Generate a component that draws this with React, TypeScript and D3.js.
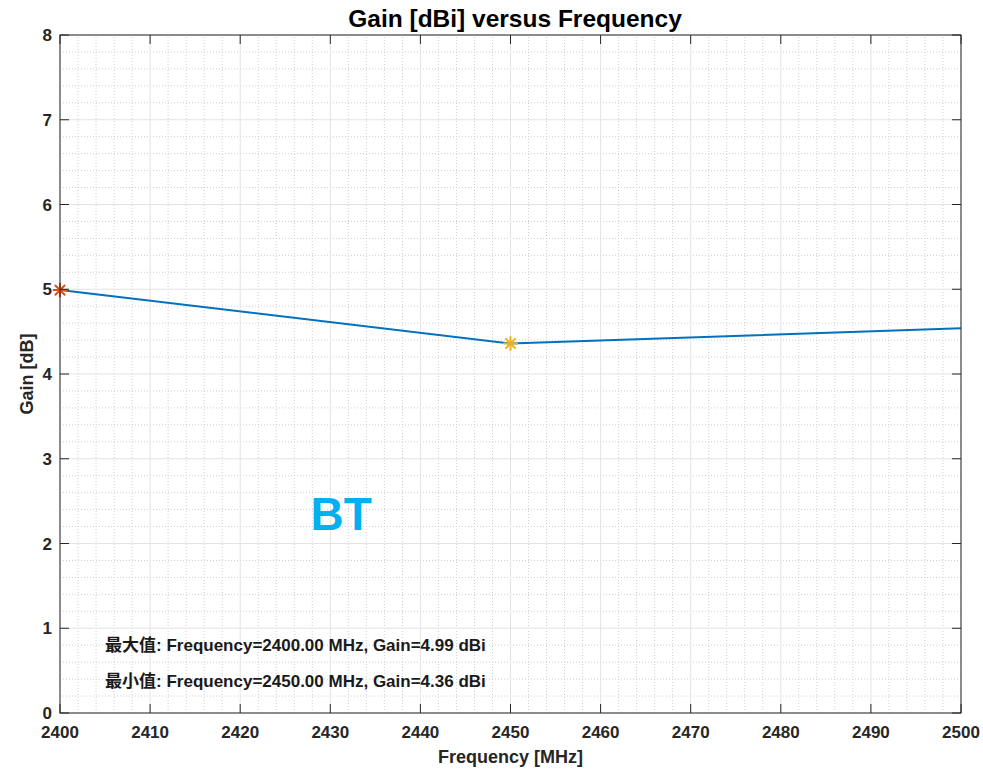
import * as d3 from 'd3';

const frequencies = [2400, 2450, 2500];
const gains = [4.99, 4.36, 4.54];
const xTickValues = [2400, 2410, 2420, 2430, 2440, 2450, 2460, 2470, 2480, 2490, 2500];
const yTickValues = [0, 1, 2, 3, 4, 5, 6, 7, 8];
const maxLabel = '最大值: Frequency=2400.00 MHz, Gain=4.99 dBi';
const minLabel = '最小值: Frequency=2450.00 MHz, Gain=4.36 dBi';

const WIDTH = 983;
const HEIGHT = 770;
const margin = { top: 35, right: 22, bottom: 57, left: 60 };
const FONT = '"Liberation Sans", Arial, Helvetica, sans-serif';
const AXIS = '#262626';

function Asterisk({ x, y, color }: { x: number; y: number; color: string }) {
  const r = 6.5;
  const d = r * 0.707;
  return (
    <g stroke={color} strokeWidth={2} strokeLinecap="round">
      <line x1={x - r} x2={x + r} y1={y} y2={y} />
      <line x1={x} x2={x} y1={y - r} y2={y + r} />
      <line x1={x - d} x2={x + d} y1={y - d} y2={y + d} />
      <line x1={x - d} x2={x + d} y1={y + d} y2={y - d} />
    </g>
  );
}

export default function App() {
  const x = d3.scaleLinear().domain([2400, 2500]).range([margin.left, WIDTH - margin.right]);
  const y = d3.scaleLinear().domain([0, 8]).range([HEIGHT - margin.bottom, margin.top]);
  const points = frequencies.map((f, i) => ({ f, g: gains[i] }));
  const line = d3.line<{ f: number; g: number }>().x((p) => x(p.f)).y((p) => y(p.g));

  // minor grid: 5 subdivisions per major interval
  const xMinor = d3.range(2400, 2500.001, 2).filter((v) => Math.round(v) % 10 !== 0);
  const yMinor = d3.range(0, 8.001, 0.2).filter((v) => Math.abs(v - Math.round(v)) > 1e-6);

  const x0 = margin.left;
  const x1 = WIDTH - margin.right;
  const y0 = HEIGHT - margin.bottom;
  const y1 = margin.top;

  const iMax = d3.maxIndex(gains);
  const iMin = d3.minIndex(gains);
  const noteFont = `"Liberation Sans", Arial, "Noto Sans CJK SC", sans-serif`;

  return (
    <svg width={WIDTH} height={HEIGHT} style={{ display: 'block', position: 'absolute', left: 0, top: 0, fontFamily: FONT }}>
      <rect width={WIDTH} height={HEIGHT} fill="#fff" />
      {xMinor.map((v) => (
        <line key={`xm-${v}`} x1={x(v)} x2={x(v)} y1={y0} y2={y1} stroke="#cfcfcf" strokeWidth={1} strokeDasharray="1 2" />
      ))}
      {yMinor.map((v) => (
        <line key={`ym-${v}`} x1={x0} x2={x1} y1={y(v)} y2={y(v)} stroke="#cfcfcf" strokeWidth={1} strokeDasharray="1 2" />
      ))}
      {xTickValues.map((v) => (
        <line key={`xg-${v}`} x1={x(v)} x2={x(v)} y1={y0} y2={y1} stroke="#e3e3e3" strokeWidth={1} />
      ))}
      {yTickValues.map((v) => (
        <line key={`yg-${v}`} x1={x0} x2={x1} y1={y(v)} y2={y(v)} stroke="#e3e3e3" strokeWidth={1} />
      ))}

      <path d={line(points) ?? undefined} fill="none" stroke="#0072BD" strokeWidth={2} />
      <Asterisk x={x(frequencies[iMax])} y={y(gains[iMax])} color="#D95319" />
      <Asterisk x={x(frequencies[iMin])} y={y(gains[iMin])} color="#EDB120" />

      <rect x={x0} y={y1} width={x1 - x0} height={y0 - y1} fill="none" stroke={AXIS} strokeWidth={1} />
      {xTickValues.map((v) => (
        <g key={`xt-${v}`}>
          <line x1={x(v)} x2={x(v)} y1={y0} y2={y0 - 9} stroke={AXIS} />
          <line x1={x(v)} x2={x(v)} y1={y1} y2={y1 + 9} stroke={AXIS} />
          <text x={x(v)} y={y0 + 25} textAnchor="middle" fontSize={17} fontWeight="bold" fill={AXIS}>{v}</text>
        </g>
      ))}
      {yTickValues.map((v) => (
        <g key={`yt-${v}`}>
          <line x1={x0} x2={x0 + 9} y1={y(v)} y2={y(v)} stroke={AXIS} />
          <line x1={x1} x2={x1 - 9} y1={y(v)} y2={y(v)} stroke={AXIS} />
          <text x={x0 - 8} y={y(v) + 6} textAnchor="end" fontSize={17} fontWeight="bold" fill={AXIS}>{v}</text>
        </g>
      ))}

      <text x={515} y={27} textAnchor="middle" fontSize={24.5} fontWeight="bold" fill="#000">Gain [dBi] versus Frequency</text>
      <text x={(x0 + x1) / 2} y={763} textAnchor="middle" fontSize={18} fontWeight="bold" fill={AXIS}>Frequency [MHz]</text>
      <text transform={`translate(33, ${(y0 + y1) / 2}) rotate(-90)`} textAnchor="middle" fontSize={18} fontWeight="bold" fill={AXIS}>Gain [dB]</text>

      <text x={x(2431.2)} y={y(2.16)} textAnchor="middle" fontSize={46} fontWeight="bold" fill="#00B0F0">BT</text>

      <text x={x(2405)} y={y(0.73)} fontSize={17} fontWeight="bold" fill="#1a1a1a" style={{ fontFamily: noteFont }}>{maxLabel}</text>
      <text x={x(2405)} y={y(0.31)} fontSize={17} fontWeight="bold" fill="#1a1a1a" style={{ fontFamily: noteFont }}>{minLabel}</text>
    </svg>
  );
}
